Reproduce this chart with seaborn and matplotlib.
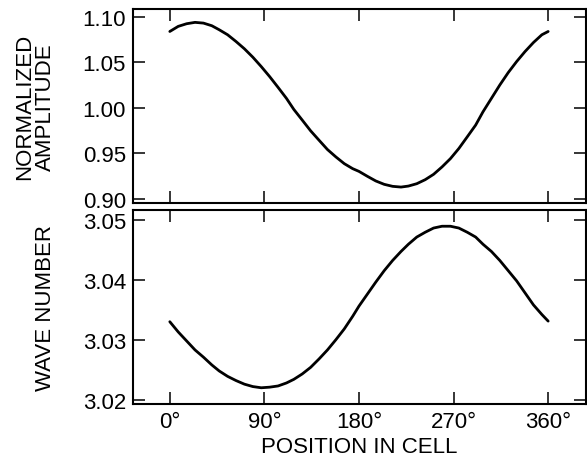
import matplotlib
matplotlib.use("Agg")
import matplotlib.pyplot as plt
import seaborn as sns
import pandas as pd

# Position within the cell (degrees)
position = [0, 8, 16, 24, 32, 40, 47, 55, 63, 71, 79, 87, 95, 103, 111, 118,
            126, 134, 142, 150, 158, 166, 174, 180, 188, 196, 204, 212, 220,
            227, 235, 243, 251, 259, 267, 275, 283, 291, 298, 306, 314, 322,
            330, 338, 346, 354, 360]

# Normalized amplitude along the cell
amplitude = [1.0838, 1.0894, 1.0923, 1.0938, 1.0930, 1.0901, 1.0857, 1.0802,
             1.0728, 1.0648, 1.0556, 1.0453, 1.0343, 1.0225, 1.0104, 0.9983,
             0.9866, 0.9748, 0.9645, 0.9543, 0.9462, 0.9388, 0.9333, 0.9303,
             0.9249, 0.9198, 0.9161, 0.9139, 0.9131, 0.9142, 0.9168, 0.9212,
             0.9271, 0.9352, 0.9443, 0.9554, 0.9682, 0.9811, 0.9957, 1.0104,
             1.0251, 1.0387, 1.0508, 1.0618, 1.0717, 1.0802, 1.0838]

# Local wave number along the cell
wave_number = [3.0330, 3.0313, 3.0298, 3.0283, 3.0271, 3.0258, 3.0248, 3.0239,
               3.0232, 3.0226, 3.0222, 3.0220, 3.0221, 3.0223, 3.0228, 3.0234,
               3.0243, 3.0254, 3.0268, 3.0283, 3.0300, 3.0318, 3.0339, 3.0356,
               3.0376, 3.0396, 3.0415, 3.0432, 3.0447, 3.0459, 3.0471, 3.0479,
               3.0486, 3.0489, 3.0489, 3.0486, 3.0479, 3.0471, 3.0459, 3.0447,
               3.0432, 3.0415, 3.0398, 3.0378, 3.0358, 3.0342, 3.0331]

x_ticks = [0, 90, 180, 270, 360]
x_tick_labels = ["0°", "90°", "180°", "270°", "360°"]
amp_ticks = [0.90, 0.95, 1.00, 1.05, 1.10]
wave_ticks = [3.02, 3.03, 3.04, 3.05]

df = pd.DataFrame({"position": position, "amplitude": amplitude,
                   "wave_number": wave_number})

sns.set_theme(style="ticks")
plt.rcParams["font.family"] = ["Liberation Sans", "DejaVu Sans"]
plt.rcParams.update({
    "font.size": 16,
    "text.color": "black",
    "axes.labelcolor": "black",
    "xtick.color": "black",
    "ytick.color": "black",
    "axes.edgecolor": "black",
})

fig = plt.figure(figsize=(5.87, 4.64), dpi=100)
ax_top = fig.add_axes([0.2266, 0.5603, 0.7717, 0.4192])
ax_bot = fig.add_axes([0.2266, 0.1272, 0.7717, 0.4180])

sns.lineplot(data=df, x="position", y="amplitude", ax=ax_top,
             color="black", linewidth=2.0)
sns.lineplot(data=df, x="position", y="wave_number", ax=ax_bot,
             color="black", linewidth=2.0)

for ax in (ax_top, ax_bot):
    ax.set_xlim(-35, 396)
    ax.set_xticks(x_ticks)
    for s in ax.spines.values():
        s.set_linewidth(1.5)
        s.set_color("black")
    ax.tick_params(which="both", direction="in", length=8.5, width=1.1,
                   top=True, right=True, colors="black", labelsize=16,
                   pad=5)
    ax.set_facecolor("white")

ax_top.set_ylim(0.8956, 1.109)
ax_top.set_yticks(amp_ticks)
ax_top.set_yticklabels([f"{v:.2f}" for v in amp_ticks])
ax_top.set_xticklabels([])
ax_top.set_xlabel("")
ax_top.set_ylabel("NORMALIZED\nAMPLITUDE", fontsize=16, linespacing=0.95)
ax_top.yaxis.set_label_coords(-0.171, 0.5)

ax_bot.set_ylim(3.0193, 3.0516)
ax_bot.set_yticks(wave_ticks)
ax_bot.set_yticklabels([f"{v:.2f}" for v in wave_ticks])
ax_bot.set_xticklabels(x_tick_labels)
ax_bot.set_xlabel("POSITION IN CELL", fontsize=16, labelpad=3)
ax_bot.set_ylabel("WAVE NUMBER", fontsize=16)
ax_bot.yaxis.set_label_coords(-0.171, 0.5)

fig.savefig("out.png", dpi=100, facecolor="white")
